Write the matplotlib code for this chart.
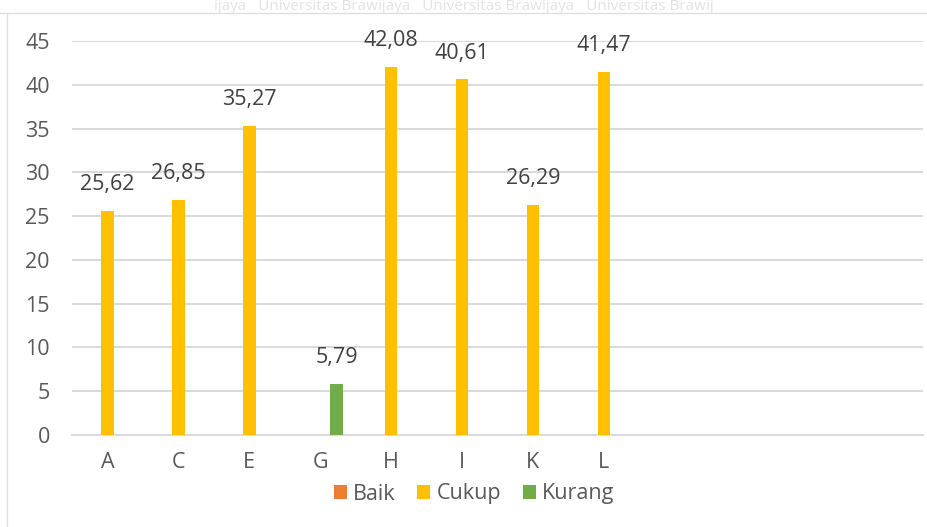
import matplotlib
matplotlib.use("Agg")
import matplotlib.pyplot as plt
from matplotlib.lines import Line2D
from matplotlib.patches import Patch
import numpy as np

plt.rcParams['font.family'] = ['Open Sans', 'DejaVu Sans']

categories = ["A", "C", "E", "G", "H", "I", "K", "L", "", "", "", ""]
series_names = ["Baik", "Cukup", "Kurang"]
baik = [None] * 12
cukup = [25.62, 26.85, 35.27, None, 42.08, 40.61, 26.29, 41.47, None, None, None, None]
kurang = [None, None, None, 5.79, None, None, None, None, None, None, None, None]
colors = ["#ED7D31", "#FFC000", "#70AD47"]
yticks = [0, 5, 10, 15, 20, 25, 30, 35, 40, 45]

W, H = 927, 527
fig = plt.figure(figsize=(W / 100, H / 100), dpi=100)
ax = fig.add_axes([72 / W, 1 - 435 / H, (923 - 72) / W, (435 - 41) / H])

text_color = "#595959"
fs = 15.5
x = np.arange(len(categories))
offset = 0.232
width = 0.179
for i, (vals, col) in enumerate(zip([baik, cukup, kurang], colors)):
    xs = [xi + (i - 1) * offset for xi, v in zip(x, vals) if v is not None]
    vs = [v for v in vals if v is not None]
    if not vs:
        continue
    bars = ax.bar(xs, vs, width=width, color=col, zorder=3)
    for b, v in zip(bars, vs):
        ax.annotate(f"{v:.2f}".replace(".", ","), (b.get_x() + b.get_width() / 2, v),
                    xytext=(0, 19), textcoords="offset points", ha="center", va="center",
                    fontsize=fs, color="#404040")

ax.set_xlim(-0.5, len(categories) - 0.5)
ax.set_ylim(0, 45)
ax.set_yticks(yticks)
ax.set_yticklabels([str(t) for t in yticks])
ax.set_xticks(x)
ax.set_xticklabels(categories)
ax.tick_params(axis="both", length=0, labelsize=fs, colors=text_color)
ax.tick_params(axis="y", pad=16)
ax.tick_params(axis="x", pad=12)
ax.grid(axis="y", color="#D9D9D9", linewidth=1.4, zorder=0)
for s in ["top", "right", "left"]:
    ax.spines[s].set_visible(False)
ax.spines["bottom"].set_color("#D9D9D9")
ax.spines["bottom"].set_linewidth(1.4)

handles = [Patch(facecolor=c, edgecolor="none") for c in colors]
fig.legend(handles, series_names, loc="center", bbox_to_anchor=(474 / W, 1 - 494 / H),
           ncol=3, frameon=False, fontsize=fs, handlelength=0.6, handleheight=0.6,
           handletextpad=0.3, columnspacing=1.0, labelcolor=text_color)

# faint watermark / page border
fig.text(0.5, 1 - 6 / H, "ijaya   Universitas Brawijaya   Universitas Brawijaya   Universitas Brawij",
         ha="center", va="center", fontsize=11, color="#E3E3E3", zorder=0)
fig.add_artist(Line2D([0, 1], [1 - 13 / H, 1 - 13 / H], transform=fig.transFigure,
                      color="#E0E0E0", linewidth=1))
fig.add_artist(Line2D([7 / W, 7 / W], [0, 1 - 13 / H], transform=fig.transFigure,
                      color="#E0E0E0", linewidth=1))

fig.savefig("out.png", dpi=100)
